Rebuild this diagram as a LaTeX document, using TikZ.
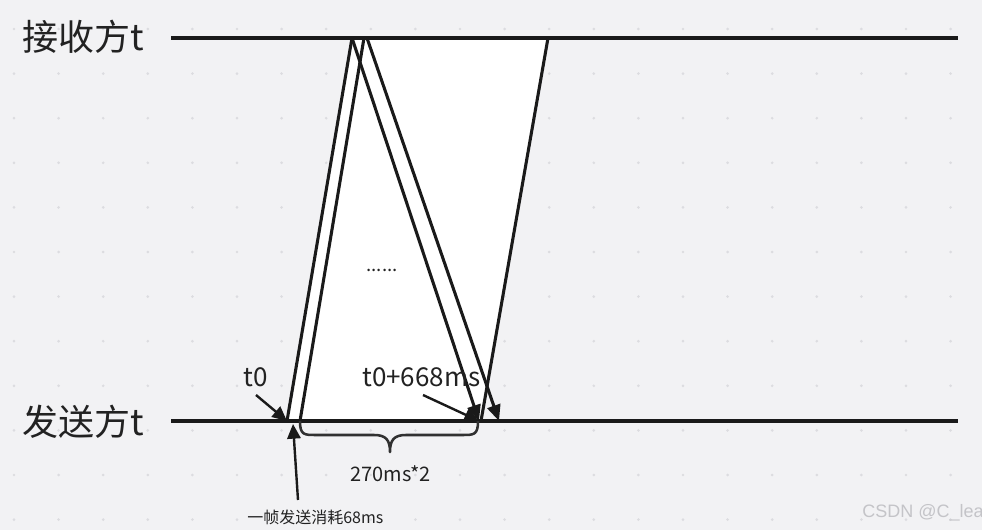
\documentclass[tikz,border=0pt]{standalone}
\usepackage{fontspec}
\setmainfont{Noto Sans CJK SC}
\newfontfamily\wmfont{Liberation Sans}
\usetikzlibrary{arrows.meta}
\definecolor{bg}{HTML}{F2F2F4}
\definecolor{griddot}{HTML}{DCDCE0}
\definecolor{ink}{HTML}{1A1A1A}
\definecolor{txt}{HTML}{222222}
\definecolor{wm}{HTML}{C4C4C8}
\begin{document}
\begin{tikzpicture}[x=0.75pt,y=-0.75pt,
  axis/.style={line width=2.3pt, draw=ink},
  frame/.style={line width=2.3pt, draw=ink, line cap=round},
  framearrow/.style={frame, -{Triangle[length=12pt,width=10pt]}},
  pointer/.style={line width=1.8pt, draw=ink, -{Triangle[length=11pt,width=10pt]}},
  bracestyle/.style={line width=1.9pt, draw=ink!90, line join=round},
  lbl/.style={inner sep=0pt, text=txt, anchor=west}
]
\fill[bg] (0,0) rectangle (982,530);
\useasboundingbox (0,0) rectangle (982,530);
\foreach \i in {0,...,21}{\foreach \j in {0,...,11}{\fill[griddot] ({14+44.6*\i},{29+44.6*\j}) circle (1.1pt);}}
% key points
\coordinate (R0) at (171,38); \coordinate (R1) at (958,38);
\coordinate (S0) at (171,421); \coordinate (S1) at (958,421);
\coordinate (a0) at (287,421); \coordinate (a1) at (352,38);
\coordinate (b0) at (300,421); \coordinate (b1) at (364,38);
\coordinate (c1) at (479,421);
\coordinate (d0) at (367,38); \coordinate (d1) at (499,421);
\coordinate (e0) at (548,38); \coordinate (e1) at (481,421);
% white band
\fill[white] (a0) -- (a1) -- (e0) -- (e1) -- cycle;
% time axes
\draw[axis] (R0) -- (R1);
\draw[axis] (S0) -- (S1);
% frames
\draw[frame] (a0) -- (a1);
\draw[frame] (b0) -- (b1);
\draw[framearrow] (a1) -- (c1);
\draw[framearrow] (d0) -- (d1);
\draw[frame] (e0) -- (e1);
% brace
\draw[bracestyle] (300,421) .. controls (300,435) and (304,435) .. (316,435) -- (374,435)
  .. controls (386,435) and (390,440) .. (390,452) .. controls (390,440) and (394,435) .. (406,435) -- (462,435)
  .. controls (474,435) and (478,435) .. (478,421);
% labels
\node[lbl, font=\fontsize{27}{27}\selectfont] (recv) at (22,37) {接收方t};
\node[lbl, font=\fontsize{27}{27}\selectfont] (send) at (22,422) {发送方t};
\node[lbl, font=\fontsize{19.5}{19.5}\selectfont] (t0) at (243,377) {t0};
\node[lbl, font=\fontsize{19.5}{19.5}\selectfont] (t668) at (362,377) {t0+668ms};
\node[lbl, font=\fontsize{15}{15}\selectfont] (rtt) at (350,474) {270ms*2};
\node[lbl, font=\fontsize{12}{12}\selectfont] (cost) at (247,517) {一帧发送消耗68ms};
\node[font=\fontsize{14}{14}\selectfont, text=txt, inner sep=0pt] (dots) at (382,270) {......};
\node[lbl, font=\wmfont\fontsize{13.5}{13.5}\selectfont, text=wm] (wmark) at (862,513) {CSDN @C\_lea};
% pointers
\coordinate (t0from) at (256,395);
\coordinate (t668from) at (423,395);
\coordinate (costfrom) at (298,500);
\coordinate (costto) at (293,424);
\draw[pointer] (t0from) -- (a0);
\draw[pointer] (t668from) -- (c1);
\draw[pointer] (costfrom) -- (costto);
\end{tikzpicture}
\end{document}
